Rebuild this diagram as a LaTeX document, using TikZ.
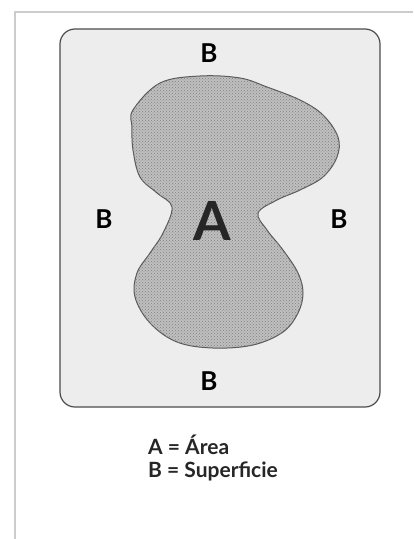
\documentclass[tikz,border=0pt]{standalone}
\usepackage{fontspec}
\setmainfont{Lato}
\usetikzlibrary{patterns,positioning}

\begin{document}
\begin{tikzpicture}[
    x=1pt, y=-1pt,
    frameline/.style={draw=gray!40, line width=1.5pt},
    panel/.style={draw=black!70, fill=gray!14, line width=1.2pt, rounded corners=15pt},
    blob/.style={draw=black!65, line width=1pt},
    blabel/.style={font=\fontsize{26}{26}\selectfont\bfseries, inner sep=0pt},
    alabel/.style={font=\fontsize{54}{54}\selectfont\bfseries, text=black!85, inner sep=0pt},
    legend/.style={font=\fontsize{21}{23}\selectfont\bfseries, text=black!85, inner sep=0pt, anchor=base west}
  ]
    \useasboundingbox (0,0) rectangle (413,539);
    \fill[white] (0,0) rectangle (413,539);
    \draw[frameline] (413,12) -- (15,12) -- (15,539);
    \draw[panel] (60,29) rectangle (380,407);
    % the shaded region
    \path[blob, fill=gray!50] plot[smooth cycle, tension=0.6] coordinates {
      (133,110) (160,83) (200,76) (240,78) (267,87) (300,100) (323,115)
      (338,137) (337,157) (323,177) (300,190) (277,200) (258,213)
      (267,230) (283,250) (298,273) (303,293) (298,313) (283,332)
      (253,345) (213,348) (177,342) (150,323) (135,297) (137,273)
      (150,253) (163,233) (172,207) (157,193) (140,177) (133,150) (132,127)};
    \path[pattern=crosshatch dots, pattern color=black!50] plot[smooth cycle, tension=0.6] coordinates {
      (133,110) (160,83) (200,76) (240,78) (267,87) (300,100) (323,115)
      (338,137) (337,157) (323,177) (300,190) (277,200) (258,213)
      (267,230) (283,250) (298,273) (303,293) (298,313) (283,332)
      (253,345) (213,348) (177,342) (150,323) (135,297) (137,273)
      (150,253) (163,233) (172,207) (157,193) (140,177) (133,150) (132,127)};
    \node[alabel] (area) at (212,221) {A};
    \node[blabel] (btop) at (209,53) {B};
    \node[blabel] (bleft) at (104,219) {B};
    \node[blabel] (bright) at (339,219) {B};
    \node[blabel] (bbottom) at (209,381) {B};
    \node[legend] (leyA) at (148,454) {A = Área};
    \node[legend] (leyB) at (148,477) {B = Superficie};
  \end{tikzpicture}
\end{document}
